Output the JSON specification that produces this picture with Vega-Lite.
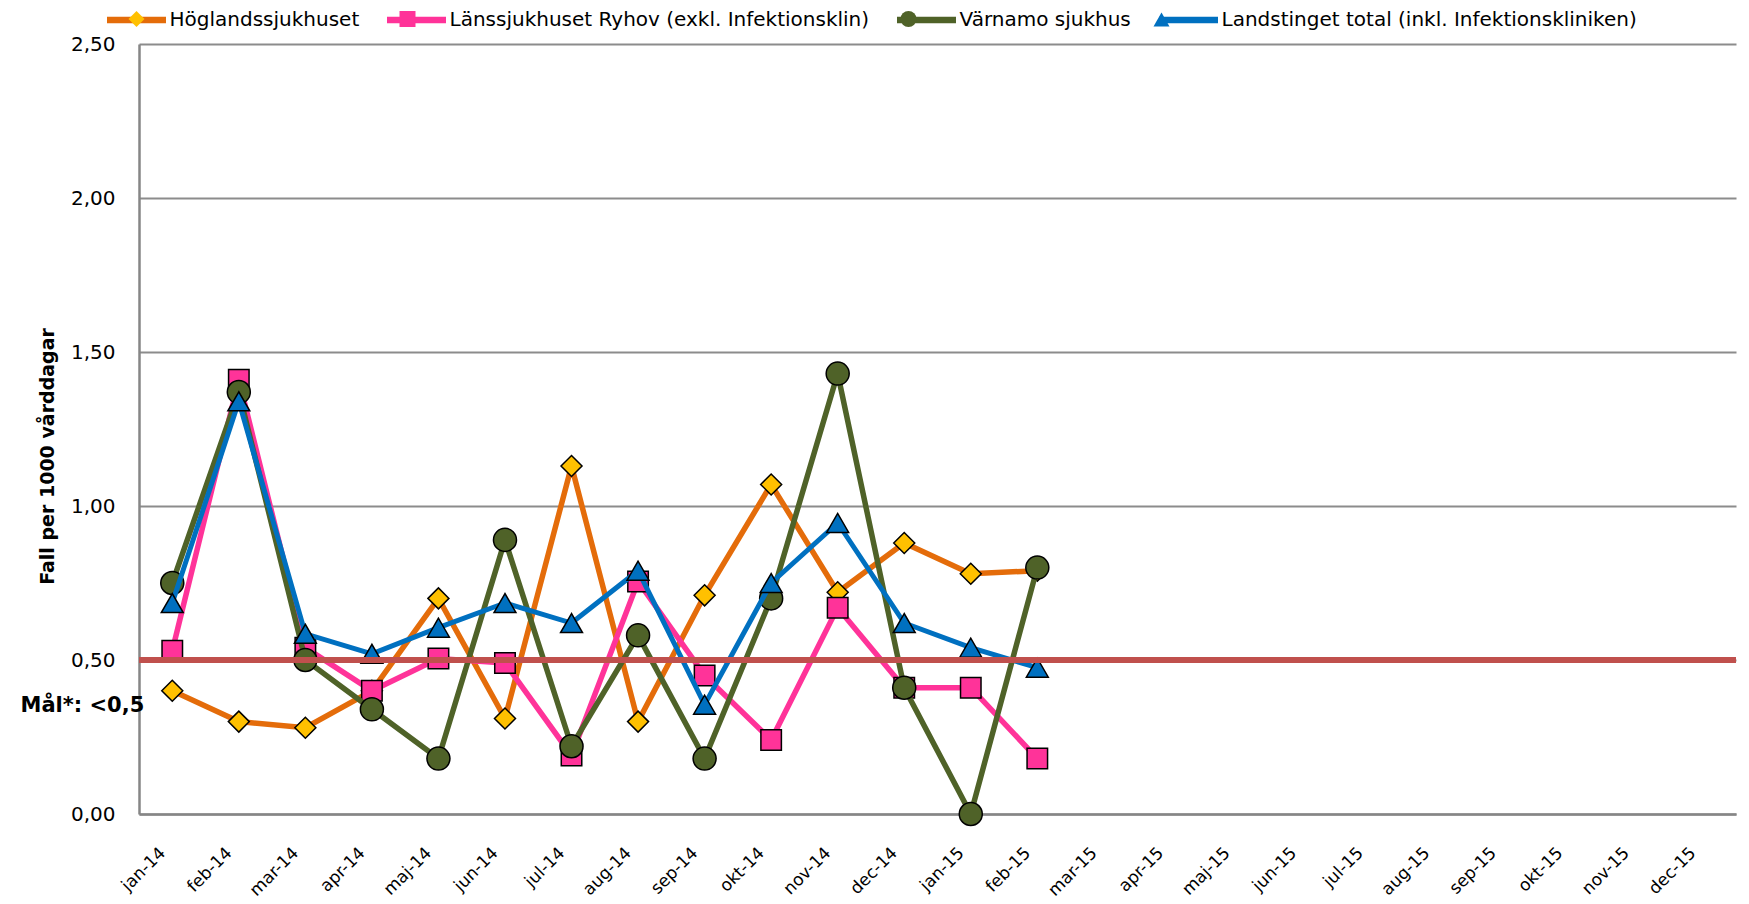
{
  "$schema": "https://vega.github.io/schema/vega-lite/v6.json",
  "width": 1597,
  "height": 770,
  "autosize": {"type": "none"},
  "padding": {"left": 139, "top": 44, "right": 13, "bottom": 90},
  "background": "white",
  "config": {
    "view": {"stroke": null},
    "font": "DejaVu Sans",
    "axis": {"labelFont": "DejaVu Sans", "titleFont": "DejaVu Sans", "labelColor": "black", "titleColor": "black"}
  },
  "data": {"values": [
    {"month": "jan-14", "series": "Höglandssjukhuset", "value": 0.40},
    {"month": "feb-14", "series": "Höglandssjukhuset", "value": 0.30},
    {"month": "mar-14", "series": "Höglandssjukhuset", "value": 0.28},
    {"month": "apr-14", "series": "Höglandssjukhuset", "value": 0.40},
    {"month": "maj-14", "series": "Höglandssjukhuset", "value": 0.70},
    {"month": "jun-14", "series": "Höglandssjukhuset", "value": 0.31},
    {"month": "jul-14", "series": "Höglandssjukhuset", "value": 1.13},
    {"month": "aug-14", "series": "Höglandssjukhuset", "value": 0.30},
    {"month": "sep-14", "series": "Höglandssjukhuset", "value": 0.71},
    {"month": "okt-14", "series": "Höglandssjukhuset", "value": 1.07},
    {"month": "nov-14", "series": "Höglandssjukhuset", "value": 0.72},
    {"month": "dec-14", "series": "Höglandssjukhuset", "value": 0.88},
    {"month": "jan-15", "series": "Höglandssjukhuset", "value": 0.78},
    {"month": "feb-15", "series": "Höglandssjukhuset", "value": 0.79},
    {"month": "jan-14", "series": "Länssjukhuset Ryhov (exkl. Infektionsklin)", "value": 0.53},
    {"month": "feb-14", "series": "Länssjukhuset Ryhov (exkl. Infektionsklin)", "value": 1.41},
    {"month": "mar-14", "series": "Länssjukhuset Ryhov (exkl. Infektionsklin)", "value": 0.54},
    {"month": "apr-14", "series": "Länssjukhuset Ryhov (exkl. Infektionsklin)", "value": 0.40},
    {"month": "maj-14", "series": "Länssjukhuset Ryhov (exkl. Infektionsklin)", "value": 0.505},
    {"month": "jun-14", "series": "Länssjukhuset Ryhov (exkl. Infektionsklin)", "value": 0.49},
    {"month": "jul-14", "series": "Länssjukhuset Ryhov (exkl. Infektionsklin)", "value": 0.19},
    {"month": "aug-14", "series": "Länssjukhuset Ryhov (exkl. Infektionsklin)", "value": 0.755},
    {"month": "sep-14", "series": "Länssjukhuset Ryhov (exkl. Infektionsklin)", "value": 0.45},
    {"month": "okt-14", "series": "Länssjukhuset Ryhov (exkl. Infektionsklin)", "value": 0.24},
    {"month": "nov-14", "series": "Länssjukhuset Ryhov (exkl. Infektionsklin)", "value": 0.67},
    {"month": "dec-14", "series": "Länssjukhuset Ryhov (exkl. Infektionsklin)", "value": 0.41},
    {"month": "jan-15", "series": "Länssjukhuset Ryhov (exkl. Infektionsklin)", "value": 0.41},
    {"month": "feb-15", "series": "Länssjukhuset Ryhov (exkl. Infektionsklin)", "value": 0.18},
    {"month": "jan-14", "series": "Värnamo sjukhus", "value": 0.75},
    {"month": "feb-14", "series": "Värnamo sjukhus", "value": 1.37},
    {"month": "mar-14", "series": "Värnamo sjukhus", "value": 0.50},
    {"month": "apr-14", "series": "Värnamo sjukhus", "value": 0.34},
    {"month": "maj-14", "series": "Värnamo sjukhus", "value": 0.18},
    {"month": "jun-14", "series": "Värnamo sjukhus", "value": 0.89},
    {"month": "jul-14", "series": "Värnamo sjukhus", "value": 0.22},
    {"month": "aug-14", "series": "Värnamo sjukhus", "value": 0.58},
    {"month": "sep-14", "series": "Värnamo sjukhus", "value": 0.18},
    {"month": "okt-14", "series": "Värnamo sjukhus", "value": 0.70},
    {"month": "nov-14", "series": "Värnamo sjukhus", "value": 1.43},
    {"month": "dec-14", "series": "Värnamo sjukhus", "value": 0.41},
    {"month": "jan-15", "series": "Värnamo sjukhus", "value": 0.00},
    {"month": "feb-15", "series": "Värnamo sjukhus", "value": 0.80},
    {"month": "jan-14", "series": "Landstinget total (inkl. Infektionskliniken)", "value": 0.685},
    {"month": "feb-14", "series": "Landstinget total (inkl. Infektionskliniken)", "value": 1.34},
    {"month": "mar-14", "series": "Landstinget total (inkl. Infektionskliniken)", "value": 0.585},
    {"month": "apr-14", "series": "Landstinget total (inkl. Infektionskliniken)", "value": 0.52},
    {"month": "maj-14", "series": "Landstinget total (inkl. Infektionskliniken)", "value": 0.605},
    {"month": "jun-14", "series": "Landstinget total (inkl. Infektionskliniken)", "value": 0.685},
    {"month": "jul-14", "series": "Landstinget total (inkl. Infektionskliniken)", "value": 0.62},
    {"month": "aug-14", "series": "Landstinget total (inkl. Infektionskliniken)", "value": 0.79},
    {"month": "sep-14", "series": "Landstinget total (inkl. Infektionskliniken)", "value": 0.355},
    {"month": "okt-14", "series": "Landstinget total (inkl. Infektionskliniken)", "value": 0.75},
    {"month": "nov-14", "series": "Landstinget total (inkl. Infektionskliniken)", "value": 0.945},
    {"month": "dec-14", "series": "Landstinget total (inkl. Infektionskliniken)", "value": 0.62},
    {"month": "jan-15", "series": "Landstinget total (inkl. Infektionskliniken)", "value": 0.54},
    {"month": "feb-15", "series": "Landstinget total (inkl. Infektionskliniken)", "value": 0.475}
  ]},
  "encoding": {
    "x": {
      "field": "month", "type": "ordinal",
      "scale": {"type": "point", "padding": 0.5, "domain": ["jan-14","feb-14","mar-14","apr-14","maj-14","jun-14","jul-14","aug-14","sep-14","okt-14","nov-14","dec-14","jan-15","feb-15","mar-15","apr-15","maj-15","jun-15","jul-15","aug-15","sep-15","okt-15","nov-15","dec-15"]},
      "axis": {"title": null, "labelAngle": -45, "labelAlign": "right", "labelBaseline": "middle", "labelFontSize": 17, "labelPadding": 36, "labelOffset": -10, "ticks": false, "domainColor": "#868686", "domainWidth": 2.5, "grid": false, "labelOverlap": false}
    },
    "y": {
      "field": "value", "type": "quantitative",
      "scale": {"domain": [0, 2.5], "nice": false, "zero": true},
      "axis": {"title": "Fall per 1000 vårddagar", "titleFontSize": 19, "titleFontWeight": "bold", "titleAngle": -90, "titleX": -92, "titleY": 412, "titleAlign": "center", "titleBaseline": "middle", "values": [0, 0.5, 1, 1.5, 2, 2.5], "labelExpr": "replace(format(datum.value, '.2f'), '.', ',')", "labelFontSize": 20, "labelPadding": 24, "ticks": false, "domainColor": "#868686", "domainWidth": 2.5, "grid": true, "gridColor": "#8c8c8c", "gridWidth": 2}
    }
  },
  "layer": [
    {
      "transform": [{"filter": "datum.series === 'Höglandssjukhuset'"}],
      "mark": {"type": "line", "strokeWidth": 5.5},
      "encoding": {"color": {"field": "series", "type": "nominal",
        "scale": {"domain": ["Höglandssjukhuset", "Länssjukhuset Ryhov (exkl. Infektionsklin)", "Värnamo sjukhus", "Landstinget total (inkl. Infektionskliniken)", "_"], "range": ["#E46C0A", "#FF3399", "#4F6228", "#0070C0", "#ffffff"]},
        "legend": {"values": ["Höglandssjukhuset", "Länssjukhuset Ryhov (exkl. Infektionsklin)", "Värnamo sjukhus", "Landstinget total (inkl. Infektionskliniken)"], "title": null, "orient": "none", "legendX": -35.5, "legendY": -57, "direction": "horizontal", "columns": 4, "padding": 0, "symbolType": "stroke", "symbolSize": 3481, "symbolStrokeWidth": 6.5, "labelFont": "DejaVu Sans", "labelFontSize": 20, "labelColor": "black", "labelOffset": 0, "labelLimit": 1000, "columnPadding": 14}}}
    },
    {
      "transform": [{"filter": "datum.series === 'Höglandssjukhuset'"}],
      "mark": {"type": "point", "filled": true, "size": 441, "stroke": "black", "strokeWidth": 1.5, "opacity": 1},
      "encoding": {
        "fill": {"field": "series", "type": "nominal",
          "scale": {"domain": ["Höglandssjukhuset", "Länssjukhuset Ryhov (exkl. Infektionsklin)", "Värnamo sjukhus", "Landstinget total (inkl. Infektionskliniken)"], "range": ["#FFC000", "#FF3399", "#4F6228", "#0070C0"]},
          "legend": {"title": null, "orient": "none", "legendX": -12.5, "legendY": -35, "direction": "horizontal", "columns": 4, "padding": 0, "symbolSize": 256, "symbolStrokeColor": "black", "symbolStrokeWidth": 1.5, "labelFont": "DejaVu Sans", "labelFontSize": 20, "labelOpacity": 0, "labelOffset": 46, "labelLimit": 1000, "columnPadding": 14}},
        "shape": {"field": "series", "type": "nominal",
          "scale": {"domain": ["Höglandssjukhuset", "Länssjukhuset Ryhov (exkl. Infektionsklin)", "Värnamo sjukhus", "Landstinget total (inkl. Infektionskliniken)"], "range": ["diamond", "square", "circle", "triangle-up"]},
          "legend": {"title": null, "orient": "none", "legendX": -12.5, "legendY": -35, "direction": "horizontal", "columns": 4, "padding": 0, "symbolSize": 256, "symbolStrokeColor": "black", "symbolStrokeWidth": 1.5, "labelFont": "DejaVu Sans", "labelFontSize": 20, "labelOpacity": 0, "labelOffset": 46, "labelLimit": 1000, "columnPadding": 14}}
      }
    },
    {
      "transform": [{"filter": "datum.series === 'Länssjukhuset Ryhov (exkl. Infektionsklin)'"}],
      "mark": {"type": "line", "strokeWidth": 5.5},
      "encoding": {"color": {"field": "series", "type": "nominal"}}
    },
    {
      "transform": [{"filter": "datum.series === 'Länssjukhuset Ryhov (exkl. Infektionsklin)'"}],
      "mark": {"type": "point", "filled": true, "size": 420, "stroke": "black", "strokeWidth": 1.5, "opacity": 1},
      "encoding": {"fill": {"field": "series", "type": "nominal"}, "shape": {"field": "series", "type": "nominal"}}
    },
    {
      "transform": [{"filter": "datum.series === 'Värnamo sjukhus'"}],
      "mark": {"type": "line", "strokeWidth": 5.5},
      "encoding": {"color": {"field": "series", "type": "nominal"}}
    },
    {
      "transform": [{"filter": "datum.series === 'Värnamo sjukhus'"}],
      "mark": {"type": "point", "filled": true, "size": 530, "stroke": "black", "strokeWidth": 1.5, "opacity": 1},
      "encoding": {"fill": {"field": "series", "type": "nominal"}, "shape": {"field": "series", "type": "nominal"}}
    },
    {
      "transform": [{"filter": "datum.series === 'Landstinget total (inkl. Infektionskliniken)'"}],
      "mark": {"type": "line", "strokeWidth": 5},
      "encoding": {"color": {"field": "series", "type": "nominal"}}
    },
    {
      "transform": [{"filter": "datum.series === 'Landstinget total (inkl. Infektionskliniken)'"}],
      "mark": {"type": "point", "filled": true, "size": 480, "stroke": "black", "strokeWidth": 1.5, "opacity": 1},
      "encoding": {"fill": {"field": "series", "type": "nominal"}, "shape": {"field": "series", "type": "nominal"}}
    },
    {
      "data": {"values": [{"goal": 0.5}]},
      "mark": {"type": "rule", "color": "#C0504D", "strokeWidth": 6},
      "encoding": {"y": {"field": "goal", "type": "quantitative"}, "x": null}
    },
    {
      "data": {"values": [{"month": "jan-14", "value": 0.35, "label": "Mål*: <0,5"}]},
      "mark": {"type": "text", "align": "right", "baseline": "middle", "dx": -28, "font": "DejaVu Sans", "fontSize": 21, "fontWeight": "bold", "color": "black"},
      "encoding": {"text": {"field": "label"}}
    }
  ]
}
